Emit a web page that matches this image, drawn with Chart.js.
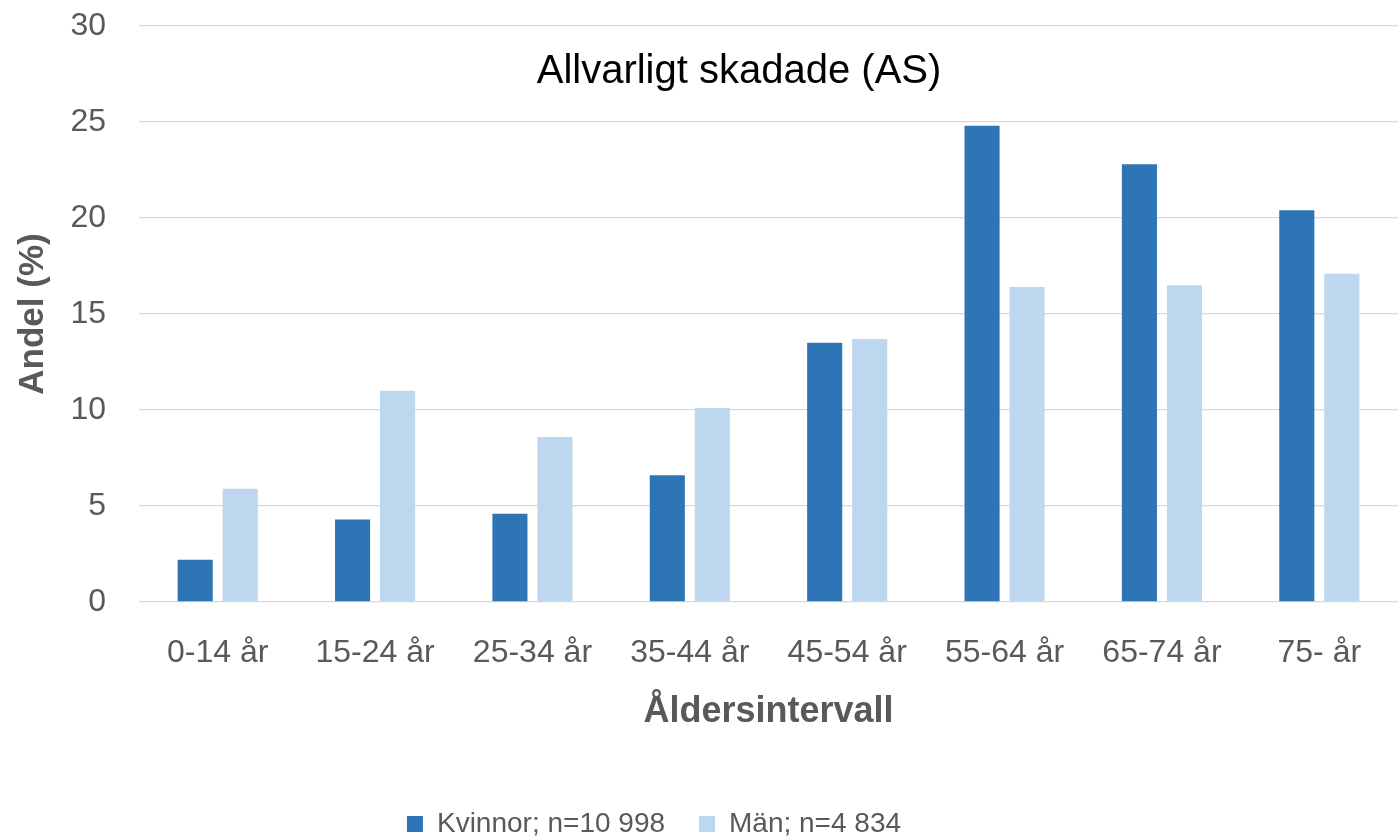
<!DOCTYPE html>
<html>
<head>
  <meta charset="UTF-8">
  <title>Allvarligt skadade (AS)</title>
  <script src="https://cdn.jsdelivr.net/npm/chart.js"></script>
  <style>
    html, body {
      margin: 0;
      padding: 0;
      background: #ffffff;
    }
    .chart-box {
      width: 1398px;
      height: 839px;
    }
  </style>
</head>
<body>

<div class="chart-box">
  <canvas id="asChart"></canvas>
</div>

<script>
  // data
  const ageGroups = ['0-14 år', '15-24 år', '25-34 år', '35-44 år', '45-54 år', '55-64 år', '65-74 år', '75- år'];
  const kvinnor = [2.2, 4.3, 4.6, 6.6, 13.5, 24.8, 22.8, 20.4];
  const man = [5.9, 11.0, 8.6, 10.1, 13.7, 16.4, 16.5, 17.1];
  const seriesNames = ['Kvinnor; n=10 998', 'Män; n=4 834'];
  const chartTitle = 'Allvarligt skadade (AS)';

  const grey = '#595959';
  const fontFamily = '"Liberation Sans", Arial, sans-serif';

  // title sits inside the plot area, so draw it ourselves
  const innerTitle = {
    id: 'innerTitle',
    afterDraw(chart) {
      const ctx = chart.ctx;
      ctx.save();
      ctx.font = '40px ' + fontFamily;
      ctx.fillStyle = '#000000';
      ctx.textAlign = 'center';
      ctx.textBaseline = 'alphabetic';
      ctx.fillText(chartTitle, 739, 83);
      ctx.restore();
    }
  };

  // legend is a bit left of centre and lower in the original
  const legendNudge = {
    id: 'legendNudge',
    afterLayout(chart) {
      const lg = chart.legend;
      if (!lg) return;
      lg.right -= 90;
      lg.top += 9;
      lg.bottom += 9;
    }
  };

  new Chart(document.getElementById('asChart'), {
    type: 'bar',
    data: {
      labels: ageGroups,
      datasets: [{
        label: seriesNames[0],
        data: kvinnor,
        backgroundColor: '#2E75B6'
      }, {
        label: seriesNames[1],
        data: man,
        backgroundColor: '#BDD7EE'
      }]
    },
    options: {
      responsive: true,
      maintainAspectRatio: false,
      animation: false,
      categoryPercentage: 0.572,
      barPercentage: 0.78,
      layout: {
        padding: { top: 26, right: 0, bottom: 0, left: 0 }
      },
      plugins: {
        tooltip: { enabled: false },
        legend: {
          position: 'bottom',
          labels: {
            color: grey,
            font: { family: fontFamily, size: 28 },
            boxWidth: 16,
            boxHeight: 16,
            padding: 34
          }
        }
      },
      scales: {
        x: {
          grid: { display: false },
          border: { display: false },
          ticks: {
            color: grey,
            font: { family: fontFamily, size: 32 },
            padding: 24,
            maxRotation: 0
          },
          title: {
            display: true,
            text: 'Åldersintervall',
            color: grey,
            font: { family: fontFamily, size: 36, weight: 'bold', lineHeight: 1.2 },
            padding: { top: 0, bottom: 33 }
          },
          afterFit(scale) {
            scale.height = 165;
          }
        },
        y: {
          min: 0,
          max: 30,
          ticks: {
            stepSize: 5,
            color: grey,
            font: { family: fontFamily, size: 32 },
            padding: 33
          },
          grid: {
            color: '#D9D9D9',
            lineWidth: 1.3,
            drawTicks: false
          },
          border: { display: false },
          title: {
            display: true,
            text: 'Andel (%)',
            color: grey,
            font: { family: fontFamily, size: 35, weight: 'bold', lineHeight: 1.2 },
            padding: { top: 12, bottom: 0 }
          },
          afterFit(scale) {
            scale.width = 139;
            // label padding would push the plot down, the top padding above covers it
            scale.paddingTop = 0;
            scale.paddingBottom = 0;
          }
        }
      }
    },
    plugins: [innerTitle, legendNudge]
  });
</script>

</body>
</html>
